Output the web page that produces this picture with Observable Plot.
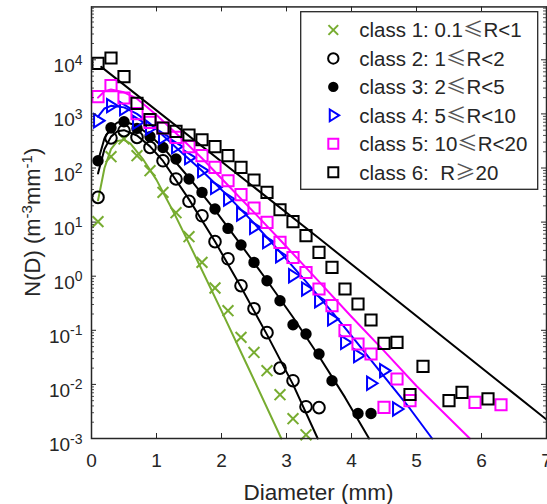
<!DOCTYPE html>
<html><head><meta charset="utf-8">
<script src="https://cdn.jsdelivr.net/npm/d3@7"></script>
<script src="https://cdn.jsdelivr.net/npm/@observablehq/plot@0.6"></script>
<style>
html,body{margin:0;padding:0;background:#fff;}
#chart{width:547px;height:504px;}
</style></head><body><div id="chart"></div>
<script>
// ---- data ----
const xTicks = [0,1,2,3,4,5,6,7];
const yExps = [-3,-2,-1,0,1,2,3,4];
const legendLabels = ["class 1: 0.1≤R<1","class 2: 1≤R<2","class 3: 2≤R<5","class 4: 5≤R<10","class 5: 10≤R<20","class 6:  R≥20"];
const xTitle = "Diameter (mm)";

const c1D = [0.1,0.3,0.5,0.7,0.9,1.1,1.3,1.5,1.7,1.9,2.1,2.3,2.5,2.7,2.9,3.1,3.3];
const c1N = [10.2,162,344,169,89.1,35.4,14.9,5.37,1.80,0.605,0.230,0.0740,0.0390,0.0179,0.00646,0.00232,0.00117];
const c2D = [0.1,0.3,0.5,0.7,0.9,1.1,1.3,1.5,1.7,1.9,2.1,2.3,2.5,2.7,2.9,3.1,3.3,3.5];
const c2N = [28.6,359,489,368,240,136,62.7,24.3,13.1,4.35,2.10,0.667,0.251,0.0904,0.0200,0.0117,0.00387,0.00372];
const c3D = [0.1,0.3,0.5,0.7,0.9,1.1,1.3,1.5,1.7,1.9,2.1,2.3,2.5,2.7,2.9,3.1,3.3,3.5,3.7,4.1,4.3];
const c3N = [136,556,717,540,380,240,147,62.6,35.4,17.5,7.65,3.78,1.80,0.826,0.352,0.127,0.0855,0.0365,0.0117,0.0029,0.0029];
const c4D = [0.1,0.3,0.5,0.7,0.9,1.1,1.3,1.5,1.7,1.9,2.1,2.3,2.5,2.7,2.9,3.1,3.3,3.5,3.7,3.9,4.1,4.3,4.5,4.7];
const c4N = [748,1420,1250,697,548,368,248,155,89.1,43.8,26.7,14.1,7.98,4.35,2.39,1.02,0.579,0.352,0.162,0.0597,0.0339,0.0105,0.0179,0.00351];
const c5D = [0.1,0.3,0.5,0.7,0.9,1.1,1.3,1.5,1.7,1.9,2.1,2.3,2.5,2.7,2.9,3.1,3.3,3.5,3.7,3.9,4.1,4.3,4.5,4.7,4.9,5.9,6.3];
const c5N = [2080,3320,1970,1010,697,548,368,248,169,103,58.2,32.1,18.2,9.86,4.22,2.22,1.17,0.579,0.285,0.0984,0.0558,0.0365,0.00376,0.0126,0.0050,0.00465,0.0042];
const c6D = [0.1,0.3,0.5,0.7,0.9,1.1,1.3,1.5,1.7,1.9,2.1,2.3,2.5,2.7,2.9,3.1,3.3,3.5,3.7,3.9,4.1,4.3,4.5,4.7,4.9,5.1,5.5,5.7,6.1];
const c6N = [8570,10800,4870,1560,781,548,475,408,333,248,169,103,60.0,35.4,16.9,10.2,5.61,2.75,1.46,0.579,0.306,0.155,0.0573,0.0597,0.0065,0.0215,0.0050,0.0071,0.0054];

// fitted curves (vertices)
const f1D = [0.1,0.2,0.3,0.4,0.5,0.6,0.8,1.0,1.29,1.6,2.0,2.4,2.92];
const f1N = [25.1,100,224,316,331,282,141,60.3,13.2,2.29,0.229,0.0219,0.001];
const f2D = [0.1,0.2,0.3,0.4,0.5,0.7,0.9,1.1,1.5,1.9,2.3,2.7,3.1,3.48];
const f2N = [79.4,224,380,479,501,398,251,135,26.3,4.37,0.631,0.0832,0.01,0.001];
const f3D = [0.1,0.2,0.3,0.4,0.5,0.7,0.9,1.1,1.5,1.9,2.3,2.7,3.1,3.5,3.9,4.27];
const f3N = [135,355,562,692,724,603,398,240,66.1,16.6,3.80,0.832,0.174,0.0331,0.00575,0.001];
const f4D = [0.1,0.2,0.3,0.5,0.7,0.9,1.1,1.3,1.7,2.1,2.5,2.9,3.3,3.7,4.1,4.5,4.9,5.24];
const f4N = [891,1260,1410,1320,1000,661,398,240,89.1,30.2,9.55,2.82,0.794,0.219,0.0562,0.0141,0.00355,0.001];
const f5D = [0.1,0.2,0.3,0.5,0.7,1.0,1.3,1.7,2.1,2.5,2.91,3.5,4.0,4.5,5.0,5.5,5.82];
const f5N = [2000,2630,2820,2510,1910,955,437,151,47.9,15.1,4.57,0.794,0.178,0.0417,0.00933,0.0024,0.001];
const f6D = [0.15,3.5,7.0];
const f6N = [7410,5.01,0.00224];

const colors = ["#77AC30","#000000","#000000","#0000ff","#ff00ff","#000000"];

// ---- build ----
const triRight = {draw(ctx, size){ const r = Math.sqrt(size/Math.PI); ctx.moveTo(r,0); ctx.lineTo(-0.6*r,-r); ctx.lineTo(-0.6*r,r); ctx.closePath(); }};
const styles = [
  {symbol:"times", d3s:d3.symbolTimes, r:5.0, fill:"none"},
  {symbol:"circle", d3s:d3.symbolCircle, r:5.8, fill:"none"},
  {symbol:"circle", d3s:d3.symbolCircle, r:4.7, fill:"black"},
  {symbol:triRight, d3s:triRight, r:6.6, fill:"none"},
  {symbol:"square", d3s:d3.symbolSquare, r:6.3, fill:"none"},
  {symbol:"square", d3s:d3.symbolSquare, r:6.3, fill:"none"}
];
const pts = [[c1D,c1N],[c2D,c2N],[c3D,c3N],[c4D,c4N],[c5D,c5N],[c6D,c6N]];
const fits = [[f1D,f1N],[f2D,f2N],[f3D,f3N],[f4D,f4N],[f5D,f5N],[f6D,f6N]];
const rows = (D,N) => D.map((d,i)=>({D:d, N:N[i]}));

const W = 547, H = 504, mL = 91, mR = 1, mB = 66;
const yTop = 9.5e4;
const decade = 54.1;
const iH = decade*(Math.log10(yTop)+3);
const mT = H - mB - iH;
const iW = W-mL-mR;
const yMajor = yExps.map(e => Math.pow(10,e));
const yMinor = [];
yExps.forEach(e => { for (let k=2;k<=9;k++) { const v = k*Math.pow(10,e); if (v <= yTop) yMinor.push(v); } });
const axisCol = "#262626";

const marks = [];
fits.forEach((f,i) => marks.push(Plot.line(rows(f[0],f[1]), {x:"D", y:"N", stroke:colors[i], strokeWidth:2})));
pts.forEach((p,i) => {
  const s = styles[i];
  marks.push(Plot.dot(rows(p[0],p[1]), {x:"D", y:"N", symbol:s.symbol, r:s.r, stroke:colors[i], fill:s.fill, strokeWidth:2}));
});
marks.push(
  Plot.tickX(xTicks, {x:d=>d, insetTop:iH-5, stroke:axisCol, strokeWidth:1}),
  Plot.tickX(xTicks, {x:d=>d, insetBottom:iH-5, stroke:axisCol, strokeWidth:1}),
  Plot.tickY(yMajor, {y:d=>d, insetRight:iW-5, stroke:axisCol, strokeWidth:1}),
  Plot.tickY(yMajor, {y:d=>d, insetLeft:iW-5, stroke:axisCol, strokeWidth:1}),
  Plot.tickY(yMinor, {y:d=>d, insetRight:iW-3, stroke:axisCol, strokeWidth:0.8}),
  Plot.tickY(yMinor, {y:d=>d, insetLeft:iW-3, stroke:axisCol, strokeWidth:0.8}),
  Plot.axisX({ticks:xTicks, tickSize:0, tickPadding:15, fontSize:19, label:null, tickFormat:d=>String(d)}),
  Plot.axisY({ticks:yMajor, tickSize:0, tickPadding:9, fontSize:19, label:null, tickFormat:d=>String(Math.round(Math.log10(d)))}),
  Plot.frame({stroke:axisCol, strokeWidth:1.5})
);

const chart = Plot.plot({
  width:W, height:H, marginLeft:mL, marginRight:mR, marginTop:mT, marginBottom:mB,
  x:{domain:[0,7]},
  y:{type:"log", domain:[1e-3,yTop]},
  style:{fontFamily:"'Liberation Sans', Arial, sans-serif", color:axisCol, background:"white", overflow:"visible"},
  marks
});
document.getElementById("chart").appendChild(chart);

const svg = d3.select(chart);
// superscript y tick labels
svg.selectAll('g[aria-label="y-axis tick label"] text').each(function(){
  const e = this.textContent;
  const t = d3.select(this); t.text("");
  t.append("tspan").attr("dy", 6.5).text("10");
  t.append("tspan").attr("dy", -7.5).attr("font-size", 14).text(e);
});
// axis titles
svg.append("text").attr("x", mL+iW/2).attr("y", 499.5).attr("text-anchor","middle")
  .attr("font-size",22.5).attr("fill",axisCol).text(xTitle);
const yt = svg.append("text").attr("transform", `translate(40,${mT+iH/2}) rotate(-90)`)
  .attr("text-anchor","middle").attr("font-size",22).attr("fill",axisCol);
yt.append("tspan").text("N(D) (m");
yt.append("tspan").attr("dy",-8).attr("font-size",15).text("-3");
yt.append("tspan").attr("dy",8).text("mm");
yt.append("tspan").attr("dy",-8).attr("font-size",15).text("-1");
yt.append("tspan").attr("dy",8).text(")");

// legend
const lg = svg.append("g").attr("transform","translate(300.7,11.7)");
lg.append("rect").attr("width",237).attr("height",177.6).attr("fill","white").attr("stroke",axisCol).attr("stroke-width",1.3);
legendLabels.forEach((lab,i) => {
  const cy = 18.3 + i*28.45, s = styles[i];
  lg.append("path").attr("d", d3.symbol(s.d3s, Math.PI*s.r*s.r*0.8)())
    .attr("transform",`translate(32.6,${cy})`).attr("fill", s.fill==="none"?"none":colors[i])
    .attr("stroke",colors[i]).attr("stroke-width",2);
  const t = lg.append("text").attr("x",58.6).attr("y",cy).attr("dy","0.36em").attr("font-size",20.5)
    .attr("text-anchor","start").attr("fill",axisCol).style("white-space","pre");
  lab.split(/([≤≥])/).forEach(part => {
    const sp = t.append("tspan").text(part);
    if (part==="≤"||part==="≥") sp.attr("font-family","'Noto Sans CJK SC', 'DejaVu Sans', sans-serif").attr("fill","#555");
  });
});
</script></body></html>
